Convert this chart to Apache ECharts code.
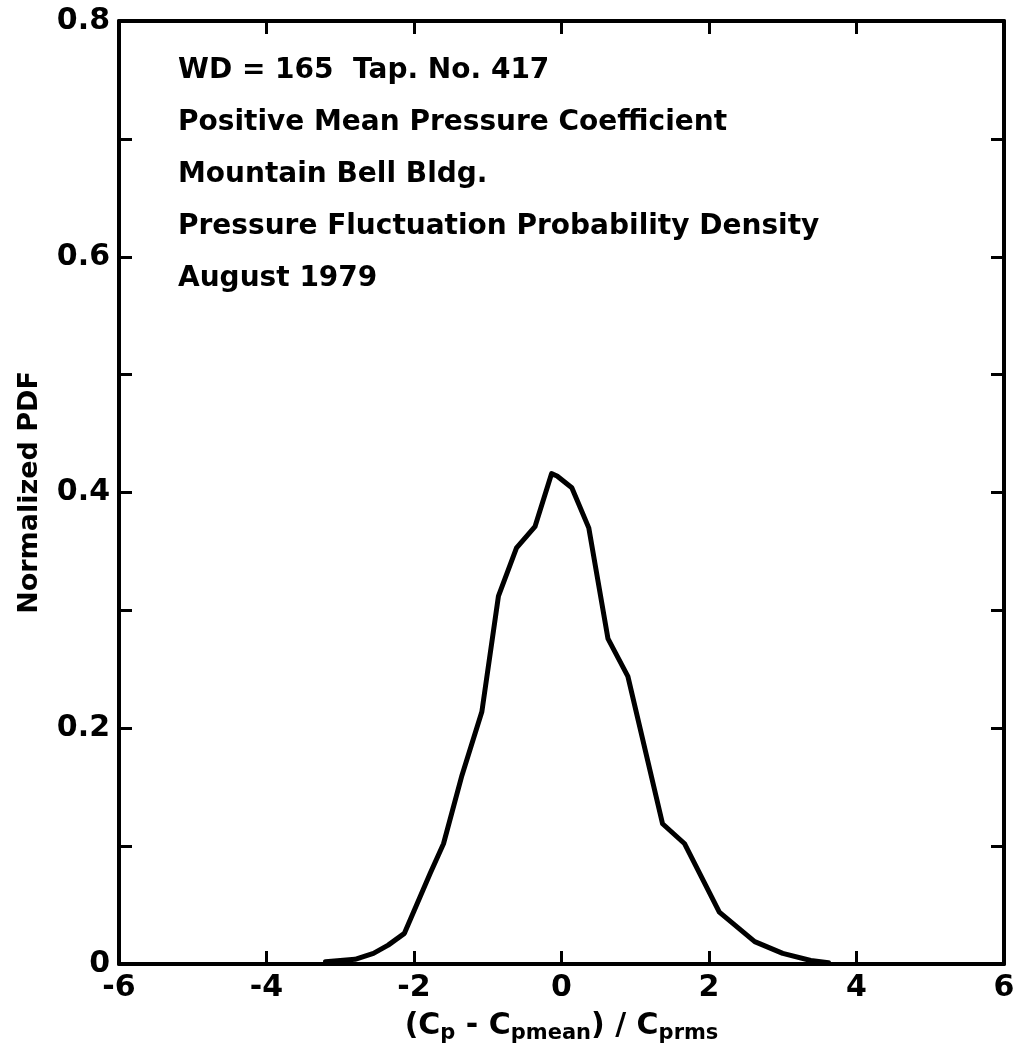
<!DOCTYPE html>
<html>
<head>
<meta charset="utf-8">
<script src="https://cdn.jsdelivr.net/npm/echarts@6/dist/echarts.min.js"></script>
<style>
  html, body { margin: 0; padding: 0; background: #fff; }
  #chart { width: 1015px; height: 1054px; }
</style>
</head>
<body>
<div id="chart"></div>
<script>
// ---- data ----
const xValues = [-3.2, -2.8, -2.55, -2.35, -2.13, -1.78, -1.6, -1.35, -1.08, -0.855, -0.61, -0.36, -0.135, -0.06, 0.14, 0.37, 0.63, 0.9, 1.37, 1.67, 2.14, 2.62, 3.0, 3.38, 3.62];
const pdfValues = [0.002, 0.004, 0.009, 0.016, 0.026, 0.077, 0.102, 0.16, 0.214, 0.312, 0.353, 0.371, 0.416, 0.414, 0.404, 0.37, 0.276, 0.244, 0.119, 0.102, 0.044, 0.019, 0.009, 0.003, 0.001];
const annotationLines = [
  'WD = 165  Tap. No. 417',
  'Positive Mean Pressure Coefficient',
  'Mountain Bell Bldg.',
  'Pressure Fluctuation Probability Density',
  'August 1979'
];
const xTickValues = [-6, -4, -2, 0, 2, 4, 6];
const yTickLabels = ['0', '0.2', '0.4', '0.6', '0.8'];

const FONT = 'DejaVu Sans';
const chart = echarts.init(document.getElementById('chart'));
const lineStyleAxis = { color: '#000', width: 4 };
const tickStyle = { color: '#000', width: 3 };

const points = xValues.map((x, i) => [x, pdfValues[i]]);

chart.setOption({
  animation: false,
  backgroundColor: '#fff',
  title: {
    text: annotationLines.join('\n'),
    left: 173,
    top: 40,
    textStyle: { fontFamily: FONT, fontWeight: 'bold', fontSize: 28, lineHeight: 52, color: '#000' }
  },
  grid: { left: 119, right: 11, top: 21, bottom: 90, containLabel: false, outerBoundsMode: 'none' },
  xAxis: [
    {
      type: 'value', min: -6, max: 6, interval: 2, position: 'bottom',
      name: '(C{s|p} - C{s|pmean}) / C{s|prms}',
      nameLocation: 'middle', nameGap: 45, nameMoveOverlap: false,
      nameTextStyle: {
        fontFamily: FONT, fontWeight: 'bold', fontSize: 30, color: '#000',
        rich: { s: { fontFamily: FONT, fontWeight: 'bold', fontSize: 21, color: '#000', padding: [14, 0, 0, 0] } }
      },
      axisLine: { show: true, onZero: false, lineStyle: lineStyleAxis },
      axisTick: { show: true, inside: true, length: 13, lineStyle: tickStyle },
      axisLabel: {
        margin: 9, fontFamily: FONT, fontWeight: 'bold', fontSize: 30, color: '#000',
        formatter: v => xTickValues.includes(v) ? String(v) : ''
      },
      splitLine: { show: false }
    },
    {
      type: 'value', min: -6, max: 6, interval: 2, position: 'top',
      axisLine: { show: true, onZero: false, lineStyle: lineStyleAxis },
      axisTick: { show: true, inside: true, length: 13, lineStyle: tickStyle },
      axisLabel: { show: false },
      splitLine: { show: false }
    }
  ],
  yAxis: [
    {
      type: 'value', min: 0, max: 0.8, interval: 0.1, position: 'left',
      name: 'Normalized PDF', nameLocation: 'middle', nameGap: 76, nameMoveOverlap: false,
      nameTextStyle: { fontFamily: FONT, fontWeight: 'bold', fontSize: 27, color: '#000' },
      axisLine: { show: true, onZero: false, lineStyle: lineStyleAxis },
      axisTick: { show: true, inside: true, length: 13, lineStyle: tickStyle },
      axisLabel: {
        margin: 9, fontFamily: FONT, fontWeight: 'bold', fontSize: 30, color: '#000',
        formatter: v => {
          const k = Math.round(v * 10);
          return k % 2 === 0 ? yTickLabels[k / 2] : '';
        }
      },
      splitLine: { show: false }
    },
    {
      type: 'value', min: 0, max: 0.8, interval: 0.1, position: 'right',
      axisLine: { show: true, onZero: false, lineStyle: lineStyleAxis },
      axisTick: { show: true, inside: true, length: 13, lineStyle: tickStyle },
      axisLabel: { show: false },
      splitLine: { show: false }
    }
  ],
  series: [{
    type: 'line',
    data: points,
    xAxisIndex: 0, yAxisIndex: 0,
    showSymbol: false,
    smooth: false,
    lineStyle: { color: '#000', width: 5, join: 'round', cap: 'round' },
    z: 3
  }]
});
</script>
</body>
</html>
